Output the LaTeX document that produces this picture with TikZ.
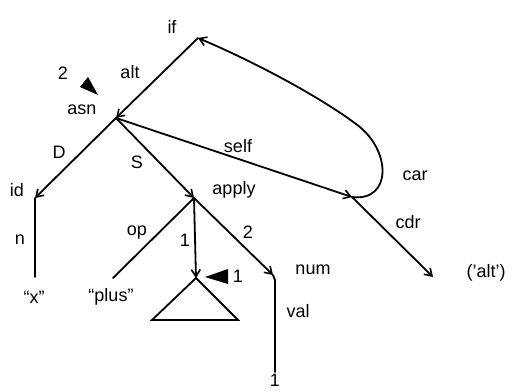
\documentclass[tikz,border=0pt]{standalone}
\usepackage{fontspec}
\setmainfont{Liberation Sans}
\usetikzlibrary{arrows.meta}
\begin{document}
\begin{tikzpicture}[x=1pt,y=-1pt,
  edge/.style={line width=1.8pt,line cap=round},
  arr/.style={edge,-{Straight Barb[length=7pt,width=9pt,line width=1.6pt]}},
  lbl/.style={font=\fontsize{18}{20}\selectfont,inner sep=0pt},
  pointer/.style={fill=black}]
\useasboundingbox (0,0) rectangle (529,391);
% points
\coordinate (if) at (198,38);
\coordinate (asn) at (116,118);
\coordinate (id) at (35,198);
\coordinate (x) at (35,277);
\coordinate (apply) at (194,198);
\coordinate (plus) at (113,278);
\coordinate (tri) at (196,278);
\coordinate (num) at (273,275);
\coordinate (one) at (275,372);
\coordinate (cons) at (352,197);
\coordinate (alt) at (433,277);
% edges
\draw[arr] (if) -- (asn);
\draw[arr] (asn) -- (id);
\draw[arr] (asn) -- (apply);
\draw[arr] (asn) -- (cons);
\draw[arr] (cons) .. controls (392,202) and (392,150) .. (356,124) .. controls (320,97) and (255,62) .. (if);
\draw[arr] (cons) -- (alt);
\draw[edge] (id) -- (x);
\draw[edge] (apply) -- (plus);
\draw[arr] (apply) -- (tri);
\draw[arr] (apply) -- (num);
\draw[edge] (num) -- (275,280) -- (one);
\draw[edge] (tri) -- (238,320) -- (152,320) -- cycle;
% black markers
\fill[pointer] (80,87) -- (88,77) -- (98,95) -- cycle;
\fill[pointer] (205,277) -- (228,269) -- (228,284) -- cycle;
% labels
\node[lbl] (lif) at (172,27) {if};
\node[lbl] (l2) at (63,73) {2};
\node[lbl] (lalt) at (130,72) {alt};
\node[lbl] (lasn) at (82,110) {asn};
\node[lbl] (lD) at (59,152) {D};
\node[lbl] (lS) at (137,162) {S};
\node[lbl] (lself) at (238,146) {self};
\node[lbl] (lid) at (17,190) {id};
\node[lbl] (lapply) at (234,190) {apply};
\node[lbl] (lcar) at (415,176) {car};
\node[lbl] (lcdr) at (408,222) {cdr};
\node[lbl] (lq) at (486,273) {('alt')};
\node[lbl] (lnum) at (313,270) {num};
\node[lbl] (lval) at (298,311) {val};
\node[lbl] (lone) at (275,380) {1};
\node[lbl] (ln) at (20,240) {n};
\node[lbl] (lx) at (34,297) {“x”};
\node[lbl] (lplus) at (111,297) {“plus”};
\node[lbl] (lop) at (137,233) {op};
\node[lbl] (l1e) at (185,240) {1};
\node[lbl] (l2e) at (248,232) {2};
\node[lbl] (l1m) at (238,276) {1};
\end{tikzpicture}
\end{document}
